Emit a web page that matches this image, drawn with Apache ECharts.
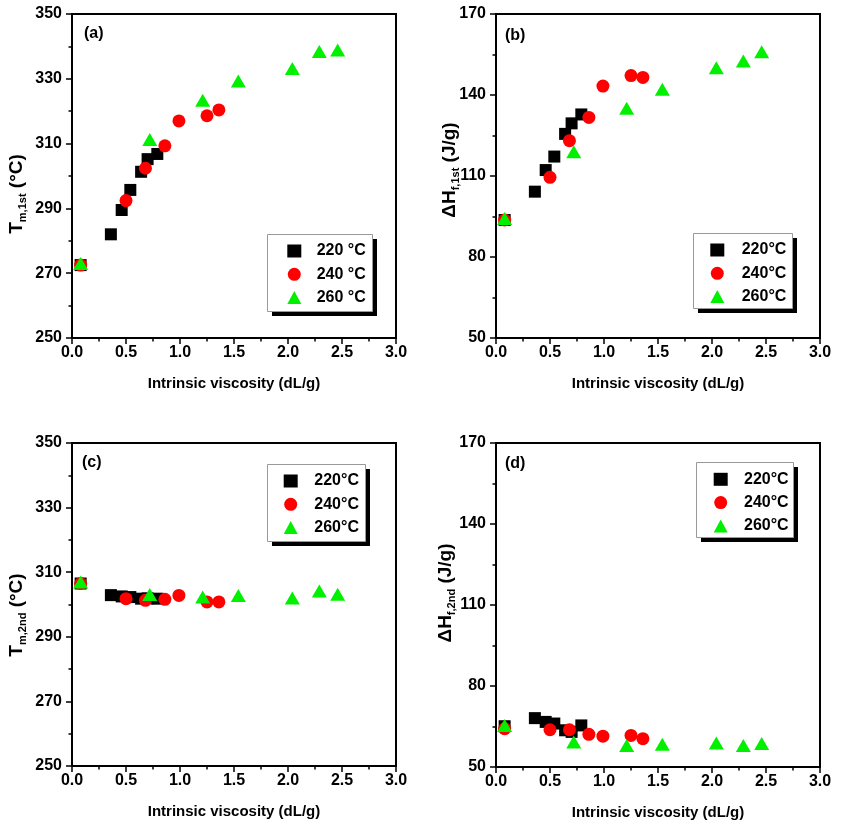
<!DOCTYPE html>
<html><head><meta charset="utf-8">
<script src="https://cdn.jsdelivr.net/npm/echarts@6/dist/echarts.min.js"></script>
<style>html,body{margin:0;padding:0;background:#fff}#c{width:841px;height:830px}</style>
</head><body><div id="c"></div><script>
// Intrinsic viscosity (dL/g) of samples for each temperature
const xs220 = [0.08, 0.36, 0.46, 0.54, 0.64, 0.70, 0.79];
const xs240 = [0.08, 0.50, 0.68, 0.86, 0.99, 1.25, 1.36];
const xs260 = [0.08, 0.72, 1.21, 1.54, 2.04, 2.29, 2.46];
// (a) Tm,1st
const tm1_220 = [272.5, 282.0, 289.5, 295.7, 301.3, 305.2, 306.8];
const tm1_240 = [272.5, 292.4, 302.4, 309.3, 317.0, 318.6, 320.4];
const tm1_260 = [273.0, 311.3, 323.4, 329.3, 333.2, 338.4, 338.9];
// (b) dHf,1st
const dh1_220 = [93.7, 104.2, 112.2, 117.2, 125.6, 129.5, 132.8];
const dh1_240 = [93.7, 109.5, 123.1, 131.7, 143.3, 147.2, 146.5];
const dh1_260 = [94.3, 119.0, 135.1, 142.1, 150.1, 152.6, 156.0];
// (c) Tm,2nd
const tm2_220 = [306.5, 302.9, 302.5, 302.3, 301.8, 301.9, 301.8];
const tm2_240 = [306.5, 301.8, 301.3, 301.6, 302.8, 300.8, 300.8];
const tm2_260 = [307.0, 303.1, 302.3, 302.8, 302.0, 304.2, 303.2];
// (d) dHf,2nd
const dh2_220 = [65.1, 68.1, 66.7, 66.1, 63.6, 63.0, 65.4];
const dh2_240 = [64.2, 63.8, 63.8, 62.1, 61.4, 61.7, 60.5];
const dh2_260 = [65.4, 59.3, 58.0, 58.4, 58.9, 58.0, 58.7];

const namesA = ['220 °C', '240 °C', '260 °C'];
const namesB = ['220°C', '240°C', '260°C'];
const xTitle = 'Intrinsic viscosity (dL/g)';
const panelLabels = ['(a)', '(b)', '(c)', '(d)'];

const F = '"Liberation Sans", Arial, sans-serif';
const zip = (xs, ys) => xs.map((x, i) => [x, ys[i]]);

const grids = [
  {left: 72, top: 14, width: 324, height: 324},
  {left: 496, top: 14, width: 324, height: 324},
  {left: 72, top: 443, width: 324, height: 323},
  {left: 496, top: 443, width: 324, height: 324}
].map(g => Object.assign(g, {show: true, borderColor: '#000', borderWidth: 2, backgroundColor: 'transparent', outerBoundsMode: 'none'}));

const tickStyle = {color: '#000', width: 1.5};
function xAx(i) {
  return {gridIndex: i, type: 'value', min: 0, max: 3, interval: 0.5,
    name: xTitle, nameLocation: 'middle', nameGap: 38,
    nameTextStyle: {fontSize: 15, fontWeight: 'bold', color: '#000', fontFamily: F},
    axisLine: {onZero: false, lineStyle: {color: '#000', width: 2}},
    axisTick: {inside: false, length: 6, lineStyle: tickStyle},
    minorTick: {show: true, splitNumber: 2, length: 3.5, lineStyle: tickStyle},
    axisLabel: {margin: 7, fontSize: 16, fontWeight: 'bold', color: '#000', fontFamily: F, formatter: v => v.toFixed(1)},
    splitLine: {show: false}, minorSplitLine: {show: false}};
}
function yAx(i, mn, mx, iv) {
  return {gridIndex: i, type: 'value', min: mn, max: mx, interval: iv,
    axisLine: {onZero: false, lineStyle: {color: '#000', width: 2}},
    axisTick: {inside: false, length: 6, lineStyle: tickStyle},
    minorTick: {show: true, splitNumber: 2, length: 3.5, lineStyle: tickStyle},
    axisLabel: {margin: 10, fontSize: 16, fontWeight: 'bold', color: '#000', fontFamily: F},
    splitLine: {show: false}, minorSplitLine: {show: false}};
}

const sym = [
  {symbol: 'rect', size: 12, color: '#000000'},
  {symbol: 'circle', size: 13, color: '#ff0000'},
  {symbol: 'triangle', size: [15, 13], color: '#00f000'}
];
const panelData = [
  [tm1_220, tm1_240, tm1_260],
  [dh1_220, dh1_240, dh1_260],
  [tm2_220, tm2_240, tm2_260],
  [dh2_220, dh2_240, dh2_260]
];
const xsAll = [xs220, xs240, xs260];
const series = [];
panelData.forEach((ys, p) => {
  const names = p === 0 ? namesA : namesB;
  ys.forEach((arr, k) => {
    series.push({type: 'scatter', name: names[k], xAxisIndex: p, yAxisIndex: p,
      symbol: sym[k].symbol, symbolSize: sym[k].size,
      itemStyle: {color: sym[k].color, opacity: 1},
      emphasis: {disabled: true},
      data: zip(xsAll[k], arr), z: 3 + k});
  });
});

// legend boxes: [boxLeft, boxTop, boxW, boxH, itemLeft, itemTop, textPad]
const legPos = [
  {bx: 267, by: 234, bw: 105, bh: 77, il: 287.3, it: 243, tp: 10.4, names: namesA},
  {bx: 693, by: 233, bw: 99, bh: 75, il: 710.3, it: 242, tp: 12.4, names: namesB},
  {bx: 267, by: 464, bw: 98, bh: 77, il: 283.7, it: 473, tp: 11.6, names: namesB},
  {bx: 696, by: 462, bw: 97, bh: 75, il: 713.7, it: 471.3, tp: 11.3, names: namesB}
];
const legends = legPos.map(l => ({
  orient: 'vertical', left: l.il, top: l.it, data: l.names, z: 20,
  padding: 0, itemWidth: 14, itemHeight: 13, itemGap: 7.3,
  textStyle: {fontSize: 16, fontWeight: 'bold', color: '#000', fontFamily: F, padding: [0, 0, 0, l.tp]},
  selectedMode: false
}));

const richY = {
  m: {fontSize: 19, fontWeight: 'bold', fontFamily: F, fill: '#000', lineHeight: 22, verticalAlign: 'middle'},
  s: {fontSize: 11, fontWeight: 'bold', fontFamily: F, fill: '#000', lineHeight: 10, verticalAlign: 'bottom'}
};
const yTitles = [
  {x: 17, y: 194, t: '{m|T}{s|m,1st}{m| (°C)}'},
  {x: 450, y: 170, t: '{m|ΔH}{s|f,1st}{m| (J/g)}'},
  {x: 17, y: 615, t: '{m|T}{s|m,2nd}{m| (°C)}'},
  {x: 446, y: 593, t: '{m|ΔH}{s|f,2nd}{m| (J/g)}'}
];
const graphics = [];
legPos.forEach(l => {
  graphics.push({type: 'rect', z: 10, shape: {x: l.bx + 5, y: l.by + 5, width: l.bw, height: l.bh}, style: {fill: '#000'}});
  graphics.push({type: 'rect', z: 11, shape: {x: l.bx + 0.5, y: l.by + 0.5, width: l.bw, height: l.bh}, style: {fill: '#fff', stroke: '#999', lineWidth: 1}});
});
yTitles.forEach(t => graphics.push({type: 'text', x: t.x, y: t.y, rotation: Math.PI / 2,
  style: {text: t.t, rich: richY, align: 'center', verticalAlign: 'middle', fill: '#000'}}));
const labPos = [[84, 26], [505, 28], [82, 455], [505, 456]];
labPos.forEach((p, i) => graphics.push({type: 'text', x: p[0], y: p[1],
  style: {text: panelLabels[i], font: 'bold 16px ' + F, fill: '#000', align: 'left', verticalAlign: 'top'}}));

const chart = echarts.init(document.getElementById('c'), null, {renderer: 'canvas'});
chart.setOption({
  backgroundColor: '#fff', animation: false,
  grid: grids,
  xAxis: [0, 1, 2, 3].map(xAx),
  yAxis: [yAx(0, 250, 350, 20), yAx(1, 50, 170, 30), yAx(2, 250, 350, 20), yAx(3, 50, 170, 30)],
  legend: legends,
  series: series,
  graphic: graphics
});
</script></body></html>
